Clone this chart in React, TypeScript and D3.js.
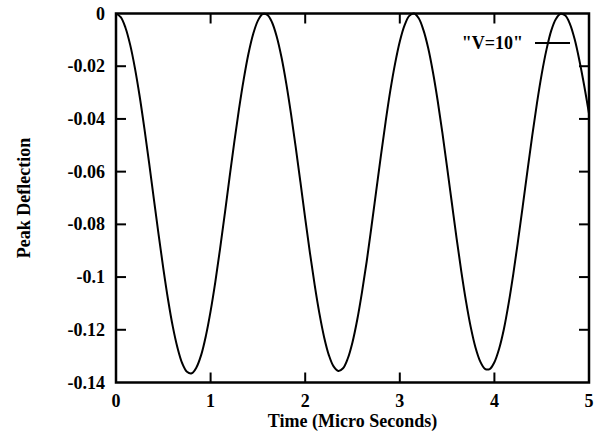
import { useEffect, useRef } from 'react';
import * as d3 from 'd3';

// time samples (micro seconds), step 0.05
const times: number[] = d3.range(0, 101).map(i => +(i * 0.05).toFixed(2));

// peak deflection at each time sample
const deflection: number[] = [
    0, -0.0014, -0.0054, -0.0119, -0.0207, -0.0314, -0.0436, -0.0567, -0.0703, -0.0838,
    -0.0967, -0.1085, -0.1187, -0.1268, -0.1327, -0.1359, -0.1365, -0.1343, -0.1296, -0.1223,
    -0.1129, -0.1018, -0.0893, -0.0760, -0.0623, -0.0489, -0.0363, -0.0250, -0.0153, -0.0078,
    -0.0027, -0.0002, -0.0005, -0.0034, -0.0089, -0.0167, -0.0266, -0.0381, -0.0508, -0.0641,
    -0.0777, -0.0908, -0.1030, -0.1138, -0.1228, -0.1296, -0.1339, -0.1356, -0.1346, -0.1309,
    -0.1247, -0.1162, -0.1058, -0.0941, -0.0810, -0.0675, -0.0540, -0.0411, -0.0292, -0.0190,
    -0.0106, -0.0045, -0.0009, 0, -0.0018, -0.0063, -0.0131, -0.0222, -0.0330, -0.0452,
    -0.0584, -0.0718, -0.0852, -0.0978, -0.1092, -0.1190, -0.1267, -0.1320, -0.1348, -0.1349,
    -0.1323, -0.1272, -0.1198, -0.1101, -0.0988, -0.0862, -0.0730, -0.0595, -0.0463, -0.0340,
    -0.0230, -0.0138, -0.0066, -0.0021, -0.0001, -0.0008, -0.0041, -0.0100, -0.0181, -0.0275,
    -0.0380,
];

const xTicks = [0, 1, 2, 3, 4, 5];
const yTicks = [0, -0.02, -0.04, -0.06, -0.08, -0.1, -0.12, -0.14];
const seriesName = '"V=10"';

const W = 598;
const H = 433;
const margin = { top: 13.5, right: 9, bottom: 50.5, left: 116 };
const font = '"Liberation Serif", "Times New Roman", serif';

export default function App() {
    const svgRef = useRef<SVGSVGElement | null>(null);

    useEffect(() => {
        if (!svgRef.current) return;
        const svg = d3.select(svgRef.current);
        svg.selectAll('*').remove();

        const x = d3.scaleLinear().domain([0, 5]).range([margin.left, W - margin.right]);
        const y = d3.scaleLinear().domain([-0.14, 0]).range([H - margin.bottom, margin.top]);

        const tickLen = 10;

        // ticks on all four sides (gnuplot style mirror)
        const g = svg.append('g').attr('stroke', '#000').attr('stroke-width', 2);
        xTicks.slice(1, -1).forEach(t => {
            g.append('line').attr('x1', x(t)).attr('x2', x(t))
                .attr('y1', y(-0.14)).attr('y2', y(-0.14) - tickLen);
            g.append('line').attr('x1', x(t)).attr('x2', x(t))
                .attr('y1', y(0)).attr('y2', y(0) + tickLen);
        });
        yTicks.slice(1, -1).forEach(t => {
            g.append('line').attr('x1', x(0)).attr('x2', x(0) + tickLen)
                .attr('y1', y(t)).attr('y2', y(t));
            g.append('line').attr('x1', x(5)).attr('x2', x(5) - tickLen)
                .attr('y1', y(t)).attr('y2', y(t));
        });

        // tick labels
        svg.append('g')
            .attr('font-family', font).attr('font-weight', 'bold').attr('font-size', 18)
            .attr('text-anchor', 'middle')
            .selectAll('text').data(xTicks).join('text')
            .attr('x', d => x(d)).attr('y', 407)
            .text(d => d3.format('d')(d));

        svg.append('g')
            .attr('font-family', font).attr('font-weight', 'bold').attr('font-size', 18)
            .attr('text-anchor', 'end')
            .selectAll('text').data(yTicks).join('text')
            .attr('x', 105).attr('y', d => y(d) + 6)
            .text(d => (d === 0 ? '0' : String(d)));

        // axis titles
        svg.append('text')
            .attr('font-family', font).attr('font-weight', 'bold').attr('font-size', 18)
            .attr('text-anchor', 'middle')
            .attr('x', (x(0) + x(5)) / 2).attr('y', 427)
            .text('Time (Micro Seconds)');

        svg.append('text')
            .attr('font-family', font).attr('font-weight', 'bold').attr('font-size', 18)
            .attr('text-anchor', 'middle')
            .attr('transform', `translate(30,${(y(0) + y(-0.14)) / 2}) rotate(-90)`)
            .text('Peak Deflection');

        // the curve
        const line = d3.line<number>()
            .x((_, i) => x(times[i]))
            .y(d => y(d))
            .curve(d3.curveCatmullRom);

        svg.append('path')
            .datum(deflection)
            .attr('fill', 'none')
            .attr('stroke', '#000')
            .attr('stroke-width', 2)
            .attr('d', line);

        // legend
        svg.append('text')
            .attr('font-family', font).attr('font-weight', 'bold').attr('font-size', 18)
            .attr('text-anchor', 'end')
            .attr('x', 523).attr('y', 49)
            .text(seriesName);
        svg.append('line')
            .attr('x1', 535).attr('x2', 570).attr('y1', 43).attr('y2', 43)
            .attr('stroke', '#000').attr('stroke-width', 2);

        // frame
        svg.append('rect')
            .attr('x', x(0)).attr('y', y(0))
            .attr('width', x(5) - x(0)).attr('height', y(-0.14) - y(0))
            .attr('fill', 'none').attr('stroke', '#000').attr('stroke-width', 2.5);
    }, []);

    return (
        <svg ref={svgRef} width={W} height={H}
            style={{ position: 'absolute', left: 0, top: 0, background: '#fff' }} />
    );
}
